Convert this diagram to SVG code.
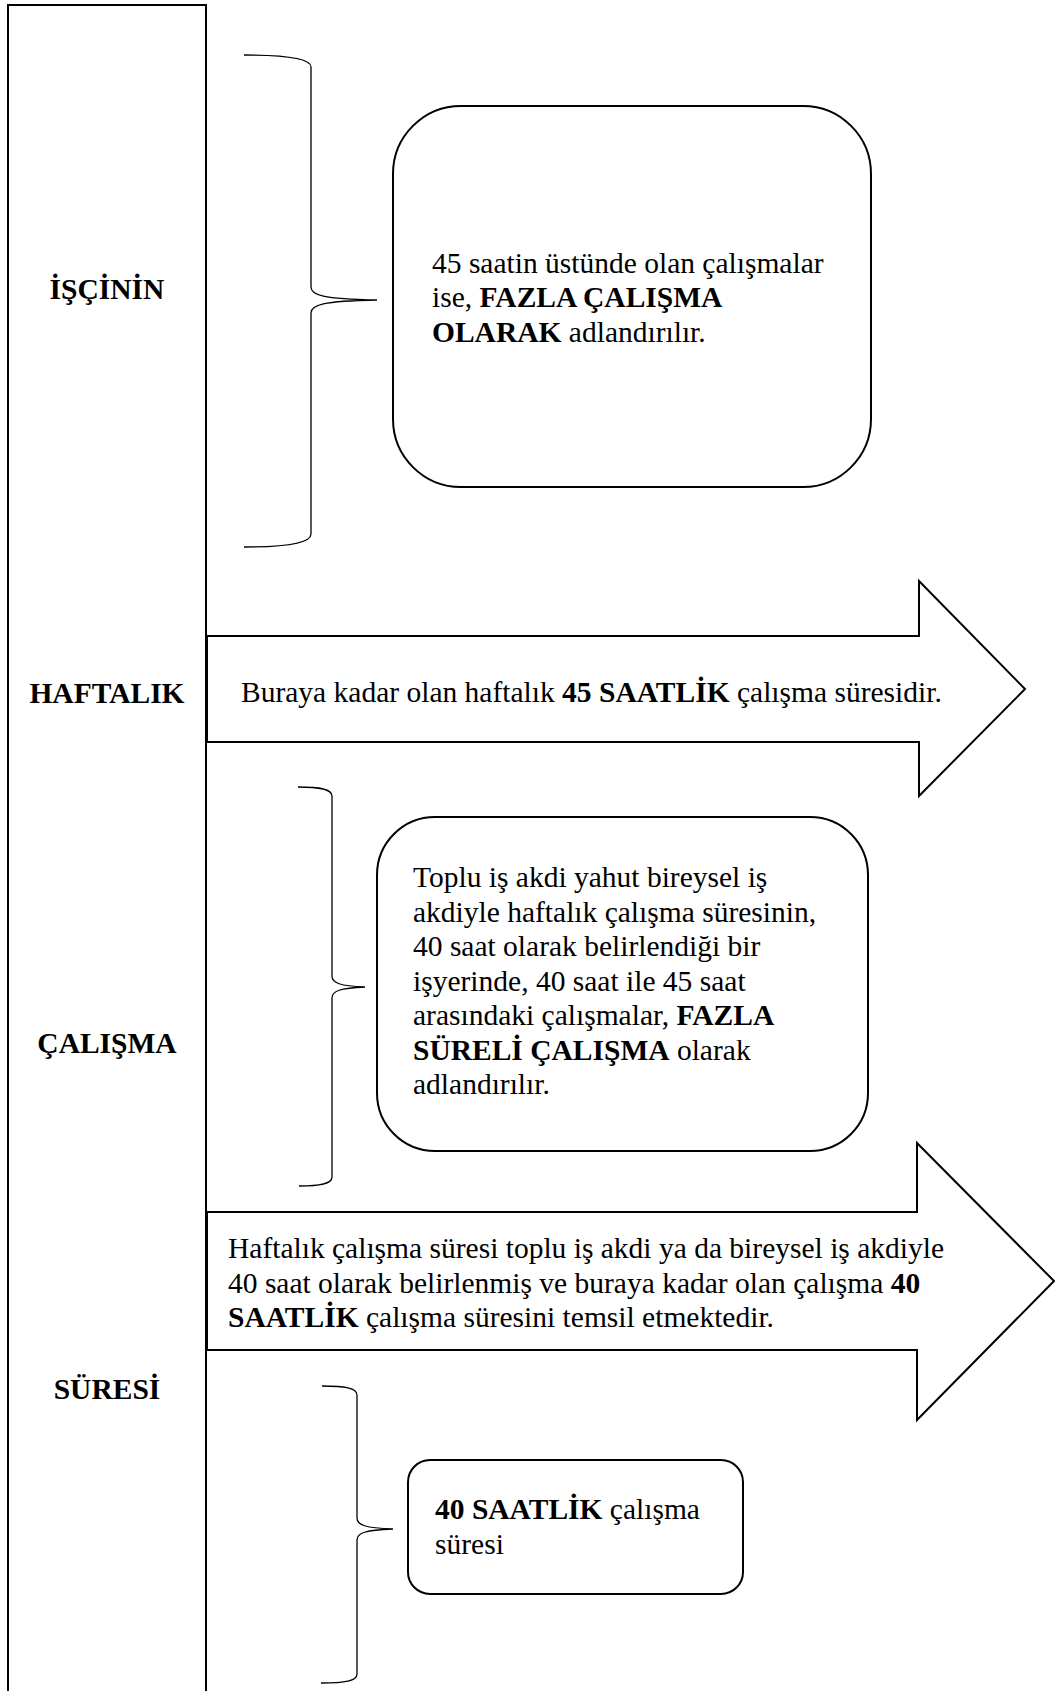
<svg xmlns="http://www.w3.org/2000/svg" width="1055" height="1691" viewBox="0 0 1055 1691">
<style>
.shape{fill:#fff;stroke:#000;stroke-width:2;stroke-linejoin:miter}
.brace{fill:none;stroke:#000;stroke-width:1.3}
text{font-family:"Liberation Serif","Times New Roman",serif;font-size:29.5px;fill:#000}
.b{font-weight:bold}
.lbl{font-weight:bold;text-anchor:middle}
</style>
<rect width="1055" height="1691" fill="#fff"/>
<g id="side-bar">
<rect class="shape" x="8" y="5" width="198" height="1700"/>
<text class="lbl" x="107" y="299">İŞÇİNİN</text>
<text class="lbl" x="107" y="703">HAFTALIK</text>
<text class="lbl" x="107" y="1053">ÇALIŞMA</text>
<text class="lbl" x="107" y="1399">SÜRESİ</text>
</g>
<g id="connectors">
<path class="brace" d="M244,55 C285,55 311,58 311,67 L311,287 C311,295 322,299 377,300 M377,300 C322,301 311,305 311,313 L311,534 C311,543 285,547 244,547"/>
<path class="brace" d="M298,787 C320,787 332,789 332,796 L332,976 C332,983 340,986 365,987 M365,987 C340,988 332,991 332,998 L332,1177 C332,1184 320,1186 299,1186"/>
<path class="brace" d="M322,1386 C345,1386 357,1388 357,1395 L357,1518 C357,1525 365,1528 393,1529 M393,1529 C365,1530 357,1533 357,1540 L357,1674 C357,1681 345,1683 321,1683"/>
</g>
<g id="box-fazla-calisma">
<rect class="shape" x="393" y="106" width="478" height="381" rx="68" ry="68"/>
<text x="432" y="273">45 saatin üstünde olan çalışmalar</text>
<text x="432" y="307.3">ise, <tspan class="b">FAZLA ÇALIŞMA</tspan></text>
<text x="432" y="341.6"><tspan class="b">OLARAK</tspan> adlandırılır.</text>
</g>
<g id="arrow-45">
<polygon class="shape" points="207,636 919,636 919,581 1025,689 919,796 919,742 207,742"/>
<text x="241" y="702">Buraya kadar olan haftalık <tspan class="b">45 SAATLİK</tspan> çalışma süresidir.</text>
</g>
<g id="box-fazla-sureli">
<rect class="shape" x="377" y="817" width="491" height="334" rx="58" ry="58"/>
<text x="413" y="887">Toplu iş akdi yahut bireysel iş</text>
<text x="413" y="921.5">akdiyle haftalık çalışma süresinin,</text>
<text x="413" y="956">40 saat olarak belirlendiği bir</text>
<text x="413" y="990.5">işyerinde, 40 saat ile 45 saat</text>
<text x="413" y="1025">arasındaki çalışmalar, <tspan class="b">FAZLA</tspan></text>
<text x="413" y="1059.5"><tspan class="b">SÜRELİ ÇALIŞMA</tspan> olarak</text>
<text x="413" y="1094">adlandırılır.</text>
</g>
<g id="arrow-40">
<polygon class="shape" points="207,1212 917,1212 917,1143 1054,1281 917,1420 917,1350 207,1350"/>
<text x="228" y="1258">Haftalık çalışma süresi toplu iş akdi ya da bireysel iş akdiyle</text>
<text x="228" y="1292.5">40 saat olarak belirlenmiş ve buraya kadar olan çalışma <tspan class="b">40</tspan></text>
<text x="228" y="1327"><tspan class="b">SAATLİK</tspan> çalışma süresini temsil etmektedir.</text>
</g>
<g id="box-40">
<rect class="shape" x="408" y="1460" width="335" height="134" rx="22" ry="22"/>
<text x="435" y="1519"><tspan class="b">40 SAATLİK</tspan> çalışma</text>
<text x="435" y="1553.5">süresi</text>
</g>
</svg>
